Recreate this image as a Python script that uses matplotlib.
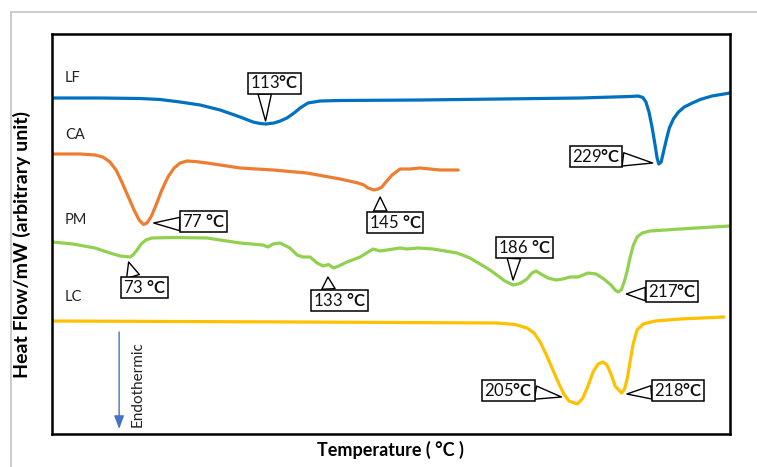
import matplotlib.pyplot as plt
import numpy as np
from matplotlib.lines import Line2D

plt.rcParams['font.family'] = ['Lato', 'DejaVu Sans']
plt.rcParams['mathtext.fontset'] = 'custom'
plt.rcParams['mathtext.rm'] = 'Lato'
plt.rcParams['mathtext.bf'] = 'Lato:bold'

# DSC traces: temperature (°C) and heat flow (arbitrary units, stacked offsets)
lf_t = [50, 64.2, 76.0, 81.9, 87.8, 93.7, 99.6, 105.5, 109.3, 111.4, 113.0, 115.5,
        117.3, 119.3, 121.4, 123.2, 125.5, 129.1, 135.0, 158.6, 182.2, 205.8, 220.5,
        222.9, 224.3, 225.2, 226.1, 227.0, 227.9, 228.5, 229.0, 229.7, 230.3, 231.2,
        232.1, 233.3, 234.8, 236.5, 238.9, 241.2, 244.7, 250]
lf_hf = [336, 336, 335.5, 334.5, 332, 329, 324, 317, 312, 310.5, 310, 311,
         313, 316, 321, 326, 331, 333, 333.5, 334, 335, 336, 337.5,
         338, 336.5, 332, 322, 307, 289, 276, 270, 272, 281, 294,
         306, 315, 322, 327, 331, 334.5, 338, 341]

ca_t = [50, 58.3, 62.7, 65.0, 67.1, 68.9, 70.6, 72.4, 74.2, 75.7, 77.0, 78.0, 79.2,
        80.7, 82.4, 84.2, 86.0, 87.8, 89.8, 92.2, 95.7, 105.5, 115.2, 125.2, 135.0,
        140.3, 142.0, 143.2, 145.0, 146.2, 147.3, 148.5, 150.3, 152.7, 155.6, 158.6,
        164.5, 169.8]
ca_hf = [280, 280, 279, 277, 272, 264, 252, 238, 224, 214, 209.5, 211, 217,
         229, 244, 257, 266, 271, 273, 272.5, 271, 266, 264, 261, 255,
         251, 249, 246, 244, 245, 247, 252, 259, 265, 265, 266,
         264, 264]

pm_t = [50, 56.2, 62.7, 67.1, 70.1, 73.0, 73.9, 75.1, 76.3, 77.7, 79.5, 85.7, 95.7,
        105.5, 112.2, 113.7, 115.2, 117.3, 120.2, 122.3, 124.0, 126.1, 128.2, 130.0,
        131.6, 133.0, 134.6, 137.0, 140.9, 144.7, 146.8, 152.7, 154.7, 158.0, 162.4,
        169.5, 173.3, 179.2, 183.6, 186.0, 188.1, 190.1, 191.6, 192.8, 194.2, 196.3,
        198.7, 200.7, 202.8, 205.2, 208.1, 210.5, 212.8, 214.9, 216.1, 217.0, 217.9,
        218.7, 219.6, 220.5, 221.4, 222.6, 224.1, 226.4, 235.3, 245.0, 250]
pm_hf = [192, 190, 186, 181, 178, 177, 179, 184, 190, 194, 196, 196.5, 196,
         191, 189, 187, 190, 191, 186, 179, 177, 177, 171, 168,
         169.5, 166, 168, 172, 177, 185, 183, 186, 185, 186, 185,
         181, 176, 164, 153, 149, 150.5, 155, 161, 163, 160, 156,
         154, 155, 157, 157, 161, 160, 155, 149, 144, 142, 144,
         151, 162, 176, 188, 197, 201, 203, 205, 207, 208]

lc_t = [50, 123.2, 181.3, 186.6, 190.1, 192.2, 194.0, 195.7, 197.5, 199.3, 201.0,
        202.5, 205.0, 206.6, 208.1, 209.6, 211.1, 212.5, 213.7, 214.9, 216.1, 218.0,
        218.9, 219.8, 220.6, 221.5, 222.6, 224.4, 227.9, 235.3, 248.2]
lc_hf = [113, 112, 111, 109.5, 106, 101, 92, 80, 66, 52, 40,
         33, 30, 36, 48, 62, 70, 72, 69, 60, 48, 41,
         45, 57, 74, 91, 104, 110, 113, 115, 117]

sample_names = ['LF', 'CA', 'PM', 'LC']
sample_label_y = [356, 299, 214, 137]
colors = ['#0070C0', '#ED7D31', '#92D050', '#FFC000']

# peak callouts: label, peak point, box centre, where the pointer leaves the box
peaks = [
    ('113', (113.0, 313), (115.6, 351), (0.3, 0)),
    ('229', (227.2, 271), (210.5, 277.5), (1, 0.35)),
    ('77 ', (80.0, 211), (94.8, 212.5), (0, 0.35)),
    ('145 ', (146.8, 237), (151.2, 212), (0.22, 1)),
    ('73 ', (72.6, 172), (77.3, 146.5), (0.25, 1)),
    ('133 ', (131.4, 157), (134.7, 134), (0.3, 1)),
    ('186 ', (186.0, 154), (189.4, 186.5), (0.3, 0)),
    ('217', (219.4, 140), (232.9, 142.5), (0, 0.35)),
    ('205', (200.3, 37), (184.7, 43.5), (1, 0.4)),
    ('218', (219.6, 40), (234.7, 43.5), (0, 0.4)),
]

fig = plt.figure(figsize=(7.57, 4.67), dpi=100)
ax = fig.add_axes([52 / 757, 1 - 434 / 467, 678 / 757, 400 / 467])

for t, hf, c in zip([lf_t, ca_t, pm_t, lc_t], [lf_hf, ca_hf, pm_hf, lc_hf], colors):
    ax.plot(t, hf, color=c, lw=2.3, solid_capstyle='round', solid_joinstyle='round')

for name, y in zip(sample_names, sample_label_y):
    ax.text(53.8, y, name, fontsize=10.5, ha='left', va='center', color='#222222')

for lab, tip, box, rp in peaks:
    ax.annotate(lab + r'$\mathbf{\degree C}$', xy=tip, xytext=box,
                fontsize=12, ha='center', va='center', color='#111111',
                bbox=dict(boxstyle='square,pad=0.12', fc='white', ec='black', lw=1.1),
                arrowprops=dict(arrowstyle='wedge,tail_width=0.8,shrink_factor=0.5',
                                fc='white', ec='black', lw=1.0, relpos=rp,
                                shrinkA=0, shrinkB=0))

# endothermic direction marker
ax.annotate('', xy=(69.8, 5), xytext=(69.8, 102),
            arrowprops=dict(arrowstyle='-|>,head_width=0.3,head_length=0.8',
                            color='#4472C4', lw=1.0, shrinkA=0, shrinkB=0))
ax.text(75.4, 50, 'Endothermic', rotation=90, fontsize=11, ha='center', va='center',
        color='#222222')

ax.set_xlim(50, 250)
ax.set_ylim(0, 400)
ax.set_xticks([])
ax.set_yticks([])
for s in ax.spines.values():
    s.set_linewidth(1.8)
    s.set_color('black')

fig.text(22 / 757, 1 - 244 / 467, 'Heat Flow/mW (arbitrary unit)', rotation=90,
         fontsize=14, fontweight='bold', ha='center', va='center')
fig.text(390 / 757, 1 - 450 / 467, 'Temperature ( °C )', fontsize=13,
         fontweight='bold', ha='center', va='center')

# light frame around the panel
fig.add_artist(Line2D([11 / 757, 1], [1 - 12 / 467, 1 - 12 / 467],
                      transform=fig.transFigure, color='#c4c4c4', lw=1.2))
fig.add_artist(Line2D([11 / 757, 11 / 757], [0, 1 - 12 / 467],
                      transform=fig.transFigure, color='#c4c4c4', lw=1.2))

fig.savefig('out.png', dpi=100)
